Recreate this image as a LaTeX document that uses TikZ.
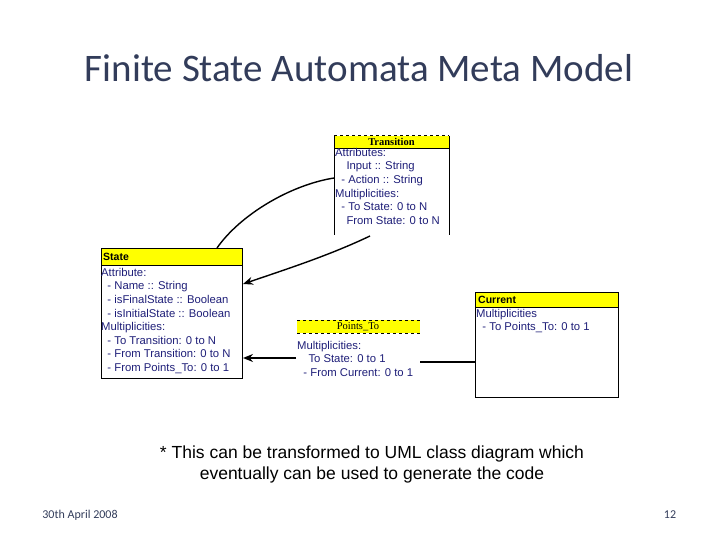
\documentclass[tikz,border=0pt]{standalone}
\usepackage{fontspec}
\setmainfont{Liberation Sans}
\newfontfamily\titlefont{Carlito}
\newfontfamily\serifb{Liberation Serif}
\usetikzlibrary{arrows.meta}
\definecolor{navy}{RGB}{30,30,120}
\definecolor{hdr}{RGB}{255,255,0}
\definecolor{ttl}{RGB}{50,60,90}
\begin{document}
\begin{tikzpicture}[x=1pt,y=-1pt,
  body/.style={font=\fontsize{11.3}{13.6}\selectfont,text=navy,align=left,anchor=north west,inner sep=0pt},
  hd/.style={font=\bfseries\fontsize{10.5}{12}\selectfont,anchor=west,inner sep=0pt},
  conn/.style={line width=1.4pt},
  arr/.style={line width=1.4pt,-{Stealth[length=10pt,width=8pt]}}]
\useasboundingbox (0,0) rectangle (720,540);
\node[font=\titlefont\fontsize{39}{44}\selectfont,text=ttl] (title) at (359,68) {Finite State Automata Meta Model};
% Transition
\fill[hdr] (334,136) rectangle (449,148);
\draw[dashed] (334,135.5) -- (449,135.5);
\draw (334,148) -- (449,148);
\draw (334,136) -- (334,235) (449,136) -- (449,235);
\node[font=\serifb\bfseries\fontsize{10.5}{12}\selectfont] (trh) at (391.5,142) {Transition};
\node[body] (trb) at (335,148) {Attributes:\\\quad Input :: String\\\ \ - Action :: String\\Multiplicities:\\\ \ - To State: 0 to N\\\quad From State: 0 to N};
\coordinate (trl) at (334,178);
\coordinate (trbot) at (370,236);
% State
\draw[fill=hdr] (101,248) rectangle (242,265);
\draw (101,265) rectangle (242,378);
\node[hd] (sth) at (103,256.5) {State};
\node[body] (stb) at (101,268) {Attribute:\\\ \ - Name :: String\\\ \ - isFinalState :: Boolean\\\ \ - isInitialState :: Boolean\\Multiplicities:\\\ \ - To Transition: 0 to N\\\ \ - From Transition: 0 to N\\\ \ - From Points\_To: 0 to 1};
\coordinate (sttop) at (217,248);
\coordinate (stright) at (243,284);
\coordinate (stright2) at (243,358);
% Current
\draw[fill=hdr] (475,292) rectangle (618,307);
\draw (475,307) rectangle (618,397);
\node[hd] (cuh) at (478,299.5) {Current};
\node[body] (cub) at (476,309) {Multiplicities\\\ \ - To Points\_To: 0 to 1};
\coordinate (cul) at (475,362);
% Points_To
\fill[hdr] (297,320) rectangle (420,333);
\draw[dashed] (297,320) -- (420,320) (297,333) -- (420,333);
\node[font=\serifb\fontsize{10.5}{12}\selectfont] (pth) at (358,326.5) {Points\_To};
\node[body] (ptb) at (297,341) {Multiplicities:\\\quad To State: 0 to 1\\\ \ - From Current: 0 to 1};
\coordinate (ptl) at (296,358);
\coordinate (ptr) at (420,362);
% connectors
\draw[conn] (trl) .. controls (290,185) and (240,215) .. (sttop);
\draw[arr] (trbot) .. controls (330,255) and (290,268) .. (stright);
\draw[arr] (ptl) -- (stright2);
\draw[conn] (ptr) -- (cul);
% footer
\node[font=\fontsize{17.5}{21}\selectfont,align=center] (note) at (372,464) {* This can be transformed to UML class diagram which\\eventually can be used to generate the code};
\node[font=\titlefont\fontsize{12}{14}\selectfont,text=ttl] (date) at (80,515) {30th April 2008};
\node[font=\titlefont\fontsize{12}{14}\selectfont,text=ttl] (pg) at (670,515) {12};
\end{tikzpicture}
\end{document}
